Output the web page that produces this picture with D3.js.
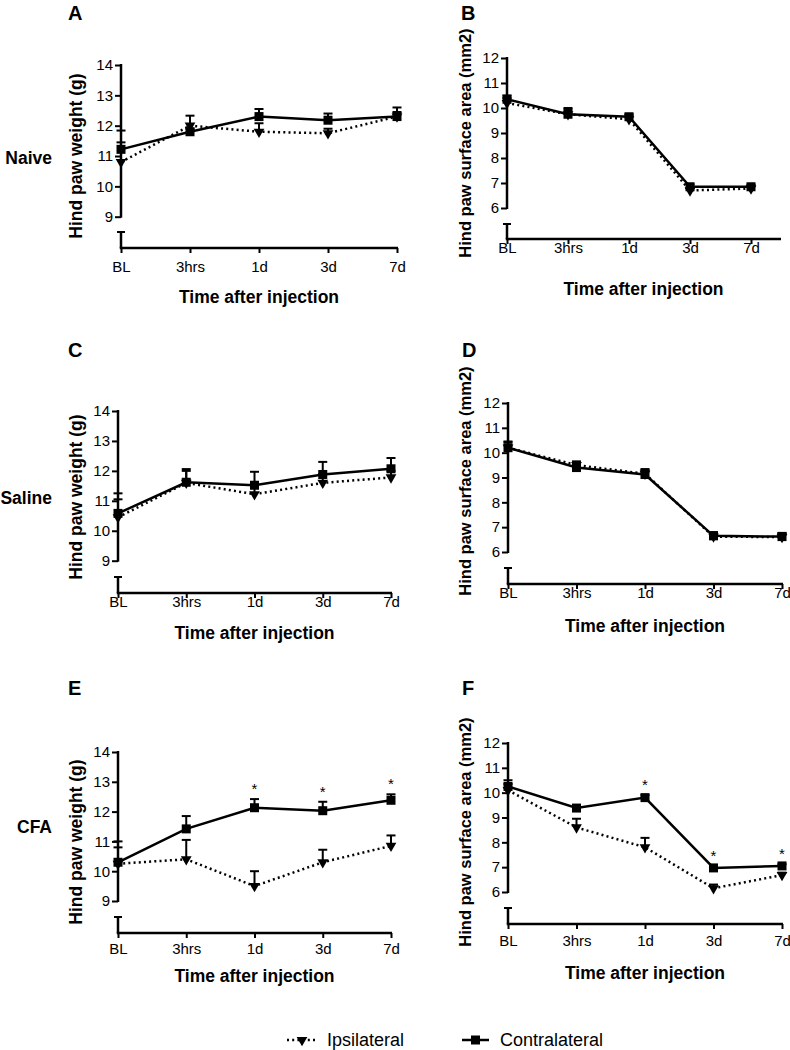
<!DOCTYPE html>
<html>
<head>
<meta charset="utf-8">
<script src="https://cdn.jsdelivr.net/npm/d3@7"></script>
<style>
  body { margin: 0; background: #fff; }
  svg { display: block; font-family: "Liberation Sans", Arial, sans-serif; }
</style>
</head>
<body>
<svg id="chart" width="790" height="1050"></svg>
<script>
const timepoints = ["BL", "3hrs", "1d", "3d", "7d"]
const weightTicks = [9, 10, 11, 12, 13, 14]
const areaTicks = [6, 7, 8, 9, 10, 11, 12]
const groups = ["Naive", "Saline", "CFA"]

// Naive
const naiveWeightIpsi = [10.8, 12.0, 11.8, 11.75, 12.3]
const naiveWeightIpsiSem = [1.04, 0.33, 0.28, 0.15, 0.15]
const naiveWeightContra = [11.22, 11.8, 12.3, 12.18, 12.3]
const naiveWeightContraSem = [0.23, 0.1, 0.25, 0.22, 0.3]
const naiveAreaIpsi = [10.2, 9.75, 9.55, 6.7, 6.78]
const naiveAreaIpsiSem = [0.2, 0.2, 0.15, 0.1, 0.1]
const naiveAreaContra = [10.35, 9.75, 9.65, 6.85, 6.85]
const naiveAreaContraSem = [0.15, 0.25, 0.1, 0.1, 0.08]

// Saline
const salineWeightIpsi = [10.45, 11.6, 11.22, 11.6, 11.78]
const salineWeightIpsiSem = [0.6, 0.4, 0.28, 0.3, 0.22]
const salineWeightContra = [10.58, 11.62, 11.52, 11.88, 12.07]
const salineWeightContraSem = [0.67, 0.44, 0.45, 0.42, 0.36]
const salineAreaIpsi = [10.2, 9.5, 9.15, 6.62, 6.6]
const salineAreaIpsiSem = [0.25, 0.15, 0.15, 0.12, 0.12]
const salineAreaContra = [10.2, 9.4, 9.12, 6.65, 6.62]
const salineAreaContraSem = [0.22, 0.2, 0.22, 0.15, 0.15]

// CFA
const cfaWeightIpsi = [10.25, 10.4, 9.5, 10.3, 10.85]
const cfaWeightIpsiSem = [0.55, 0.65, 0.5, 0.42, 0.35]
const cfaWeightContra = [10.3, 11.42, 12.13, 12.03, 12.38]
const cfaWeightContraSem = [0.7, 0.43, 0.29, 0.3, 0.2]
const cfaAreaIpsi = [10.1, 8.6, 7.8, 6.15, 6.68]
const cfaAreaIpsiSem = [0.25, 0.35, 0.38, 0.15, 0.1]
const cfaAreaContra = [10.25, 9.38, 9.8, 6.97, 7.05]
const cfaAreaContraSem = [0.25, 0.12, 0.1, 0.08, 0.07]

// significance marks (timepoint labels)
const cfaWeightStars = ["1d", "3d", "7d"]
const cfaAreaStars = ["1d", "3d", "7d"]

const weightTitle = "Hind paw weight (g)"
const areaTitle = "Hind paw surface area (mm2)"
const xTitle = "Time after injection"

// panel layout (pixels)
const panels = [
  { letter: "A", ticks: weightTicks, yTitle: weightTitle, ipsi: naiveWeightIpsi, ipsiSem: naiveWeightIpsiSem, contra: naiveWeightContra, contraSem: naiveWeightContraSem, stars: [],
    x0: 121, x1: 397, axisEnd: 397, yTop: 65, yBot: 216.7, breakTop: 232, xAxisY: 248, labelY: 267, titleY: 297, yTitleX: 76, yTitleY: 156, letterX: 68, letterY: 20 },
  { letter: "B", ticks: areaTicks, yTitle: areaTitle, ipsi: naiveAreaIpsi, ipsiSem: naiveAreaIpsiSem, contra: naiveAreaContra, contraSem: naiveAreaContraSem, stars: [],
    x0: 507, x1: 751, axisEnd: 780, yTop: 58, yBot: 208, breakTop: 224, xAxisY: 239, labelY: 248, titleY: 289, yTitleX: 465, yTitleY: 143, letterX: 461, letterY: 20 },
  { letter: "C", ticks: weightTicks, yTitle: weightTitle, ipsi: salineWeightIpsi, ipsiSem: salineWeightIpsiSem, contra: salineWeightContra, contraSem: salineWeightContraSem, stars: [],
    x0: 118, x1: 391, axisEnd: 391, yTop: 411, yBot: 560.7, breakTop: 577, xAxisY: 593, labelY: 602, titleY: 633, yTitleX: 76, yTitleY: 497, letterX: 68, letterY: 357 },
  { letter: "D", ticks: areaTicks, yTitle: areaTitle, ipsi: salineAreaIpsi, ipsiSem: salineAreaIpsiSem, contra: salineAreaContra, contraSem: salineAreaContraSem, stars: [],
    x0: 508, x1: 782, axisEnd: 782, yTop: 403, yBot: 552, breakTop: 568, xAxisY: 584, labelY: 593, titleY: 626, yTitleX: 465, yTitleY: 481, letterX: 462, letterY: 357 },
  { letter: "E", ticks: weightTicks, yTitle: weightTitle, ipsi: cfaWeightIpsi, ipsiSem: cfaWeightIpsiSem, contra: cfaWeightContra, contraSem: cfaWeightContraSem, stars: cfaWeightStars,
    x0: 118, x1: 391, axisEnd: 391, yTop: 752, yBot: 901, breakTop: 917, xAxisY: 933, labelY: 949, titleY: 976, yTitleX: 76, yTitleY: 842, letterX: 68, letterY: 695 },
  { letter: "F", ticks: areaTicks, yTitle: areaTitle, ipsi: cfaAreaIpsi, ipsiSem: cfaAreaIpsiSem, contra: cfaAreaContra, contraSem: cfaAreaContraSem, stars: cfaAreaStars,
    x0: 508, x1: 782, axisEnd: 782, yTop: 743, yBot: 892, breakTop: 908, xAxisY: 924, labelY: 941, titleY: 973, yTitleX: 465, yTitleY: 832, letterX: 462, letterY: 695 }
]
const groupLabelY = [158, 498, 827]

const axisWidth = 2.5
const lineWidth = 2.5
const svg = d3.select("#chart")

const triangle = d3.symbol().type(d3.symbolTriangle).size(50)

function drawPanel(p) {
  const g = svg.append("g")
  const x = d3.scalePoint().domain(timepoints).range([p.x0, p.x1])
  const y = d3.scaleLinear().domain([p.ticks[0], p.ticks[p.ticks.length - 1]]).range([p.yBot, p.yTop])

  // y axis ticks + labels
  const yAxis = g.append("g").attr("transform", `translate(${p.x0},0)`)
    .call(d3.axisLeft(y).tickValues(p.ticks).tickSize(6).tickPadding(2).tickFormat(d3.format("d")))
  yAxis.select(".domain").remove()
  yAxis.selectAll("line").attr("stroke", "#000").attr("stroke-width", 2)
  yAxis.selectAll("text").attr("font-size", 15).attr("fill", "#000")
  g.append("line").attr("x1", p.x0).attr("x2", p.x0).attr("y1", p.yTop - 1).attr("y2", p.yBot + 1)
    .attr("stroke", "#000").attr("stroke-width", axisWidth)

  // broken lower part of y axis
  g.append("line").attr("x1", p.x0).attr("x2", p.x0).attr("y1", p.breakTop).attr("y2", p.xAxisY)
    .attr("stroke", "#000").attr("stroke-width", axisWidth)
  g.append("line").attr("x1", p.x0 - 4).attr("x2", p.x0 + 4).attr("y1", p.breakTop).attr("y2", p.breakTop)
    .attr("stroke", "#000").attr("stroke-width", 2)

  // x axis
  const xAxis = g.append("g").attr("transform", `translate(0,${p.xAxisY})`)
    .call(d3.axisBottom(x).tickSize(5).tickPadding(0))
  xAxis.select(".domain").remove()
  xAxis.selectAll("line").attr("stroke", "#000").attr("stroke-width", 2)
  xAxis.selectAll("text").attr("font-size", 15).attr("fill", "#000")
    .attr("y", p.labelY - p.xAxisY).attr("dy", "0.35em")
  g.append("line").attr("x1", p.x0 - 1.25).attr("x2", p.axisEnd + 1).attr("y1", p.xAxisY).attr("y2", p.xAxisY)
    .attr("stroke", "#000").attr("stroke-width", axisWidth)

  // titles
  g.append("text").attr("x", (p.x0 + p.axisEnd) / 2).attr("y", p.titleY).attr("dy", "0.35em")
    .attr("text-anchor", "middle").attr("font-weight", "bold").attr("font-size", 17.5).text(xTitle)
  g.append("text").attr("transform", `translate(${p.yTitleX},${p.yTitleY}) rotate(-90)`).attr("dy", "0.35em")
    .attr("text-anchor", "middle").attr("font-weight", "bold")
    .attr("font-size", p.yTitle === areaTitle ? 16.5 : 17.5).text(p.yTitle)
  g.append("text").attr("x", p.letterX).attr("y", p.letterY)
    .attr("font-weight", "bold").attr("font-size", 20).text(p.letter)

  const ipsiData = timepoints.map((t, i) => ({ t, v: p.ipsi[i], s: p.ipsiSem[i] }))
  const contraData = timepoints.map((t, i) => ({ t, v: p.contra[i], s: p.contraSem[i] }))
  const line = d3.line().x(d => x(d.t)).y(d => y(d.v))

  g.append("path").datum(ipsiData).attr("d", line).attr("fill", "none").attr("stroke", "#000")
    .attr("stroke-width", lineWidth).attr("stroke-dasharray", "2,3.2")
  g.append("path").datum(contraData).attr("d", line).attr("fill", "none").attr("stroke", "#000")
    .attr("stroke-width", lineWidth)

  // upper error bars
  ;[ipsiData, contraData].forEach(data => {
    const eb = g.append("g").selectAll("g").data(data).join("g")
    eb.append("line").attr("x1", d => x(d.t)).attr("x2", d => x(d.t))
      .attr("y1", d => y(d.v)).attr("y2", d => y(d.v + d.s)).attr("stroke", "#000").attr("stroke-width", 2)
    eb.append("line").attr("x1", d => x(d.t) - 4.5).attr("x2", d => x(d.t) + 4.5)
      .attr("y1", d => y(d.v + d.s)).attr("y2", d => y(d.v + d.s)).attr("stroke", "#000").attr("stroke-width", 2)
  })

  // markers
  g.append("g").selectAll("path").data(ipsiData).join("path")
    .attr("d", triangle).attr("transform", d => `translate(${x(d.t)},${y(d.v)}) rotate(180)`).attr("fill", "#000")
  g.append("g").selectAll("rect").data(contraData).join("rect")
    .attr("x", d => x(d.t) - 4.5).attr("y", d => y(d.v) - 4.5).attr("width", 9).attr("height", 9).attr("fill", "#000")

  // significance stars
  g.append("g").selectAll("text").data(p.stars).join("text")
    .attr("x", t => x(t))
    .attr("y", t => {
      const i = timepoints.indexOf(t)
      return Math.min(y(p.ipsi[i] + p.ipsiSem[i]), y(p.contra[i] + p.contraSem[i])) - 5
    })
    .attr("text-anchor", "middle").attr("font-size", 15).text("*")
}

panels.forEach(drawPanel)

// group labels
svg.append("g").selectAll("text").data(groups).join("text")
  .attr("x", 52).attr("y", (d, i) => groupLabelY[i]).attr("dy", "0.35em")
  .attr("text-anchor", "end").attr("font-weight", "bold").attr("font-size", 17.5).text(d => d)

// legend
const legendY = 1040
const lg = svg.append("g")
lg.append("line").attr("x1", 287).attr("x2", 318).attr("y1", legendY).attr("y2", legendY)
  .attr("stroke", "#000").attr("stroke-width", lineWidth).attr("stroke-dasharray", "2,3.2")
lg.append("path").attr("d", triangle).attr("transform", `translate(302,${legendY}) rotate(180)`)
lg.append("text").attr("x", 327).attr("y", legendY).attr("dy", "0.35em").attr("font-size", 18).text("Ipsilateral")
lg.append("line").attr("x1", 462).attr("x2", 489).attr("y1", legendY).attr("y2", legendY)
  .attr("stroke", "#000").attr("stroke-width", lineWidth)
lg.append("rect").attr("x", 471).attr("y", legendY - 4.5).attr("width", 9).attr("height", 9)
lg.append("text").attr("x", 500).attr("y", legendY).attr("dy", "0.35em").attr("font-size", 18).text("Contralateral")
</script>
</body>
</html>
